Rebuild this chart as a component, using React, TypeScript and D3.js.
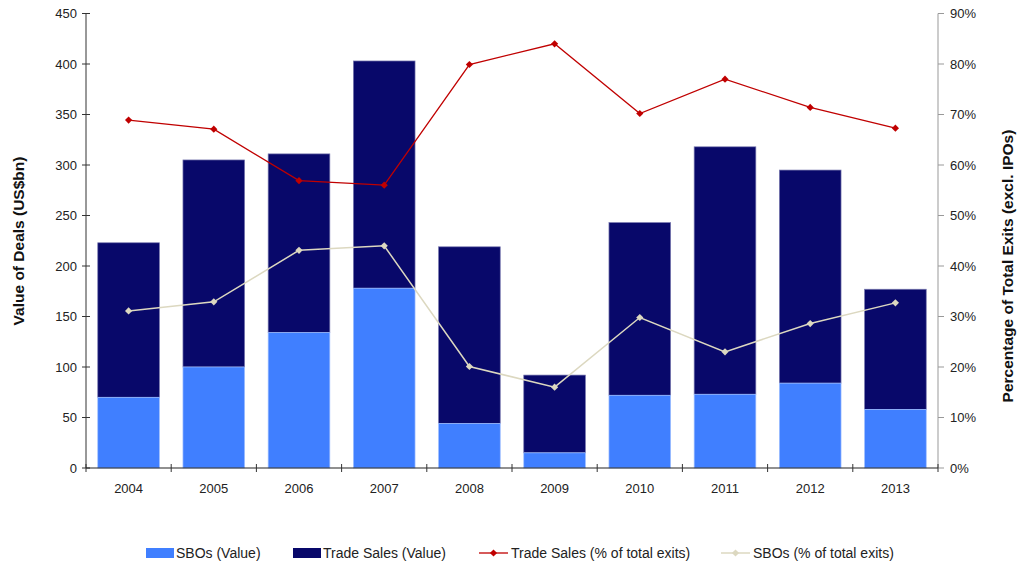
import * as d3 from "d3";

const years = ["2004", "2005", "2006", "2007", "2008", "2009", "2010", "2011", "2012", "2013"];
const sboValue = [70, 100, 134, 178, 44, 15, 72, 73, 84, 58];
const totalValue = [223, 305, 311, 403, 219, 92, 243, 318, 295, 177];
const tradeSalesPct = [68.9, 67.1, 56.9, 56.0, 79.9, 84.0, 70.2, 77.0, 71.4, 67.3];
const sboPct = [31.1, 32.9, 43.1, 44.0, 20.1, 16.0, 29.8, 23.0, 28.6, 32.7];
const leftTicks = [0, 50, 100, 150, 200, 250, 300, 350, 400, 450];
const rightTicks = [0, 10, 20, 30, 40, 50, 60, 70, 80, 90];

const width = 1017;
const height = 564;
const margin = { top: 13.5, right: 79, bottom: 96, left: 86 };
const font = "'Liberation Sans', Arial, sans-serif";

const C_SBO = "#407fff";
const C_TRADE = "#08086a";
const C_RED = "#c00000";
const C_BEIGE = "#dcd8c0";

function Diamond({ x, y, fill }: { x: number; y: number; fill: string }) {
  const s = 3.6;
  return <path d={`M${x},${y - s}L${x + s},${y}L${x},${y + s}L${x - s},${y}Z`} fill={fill} />;
}

export default function App() {
  const x = d3
    .scaleBand<string>()
    .domain(years)
    .range([margin.left, width - margin.right])
    .paddingInner(0.276)
    .paddingOuter(0.138);
  const band = (width - margin.right - margin.left) / years.length;
  const yL = d3.scaleLinear().domain([0, 450]).range([height - margin.bottom, margin.top]);
  const yR = d3.scaleLinear().domain([0, 90]).range([height - margin.bottom, margin.top]);
  const cx = (y: string) => (x(y) ?? 0) + x.bandwidth() / 2;

  const line = d3
    .line<number>()
    .x((_, i) => cx(years[i]))
    .y((d) => yR(d));

  const base = height - margin.bottom;
  const axisL = margin.left;
  const axisR = width - margin.right;

  return (
    <svg
      width={width}
      height={height}
      style={{ position: "absolute", left: 0, top: 0, background: "#fff" }}
      fontFamily={font}
    >
      {/* bars */}
      {years.map((yr, i) => (
        <g key={yr}>
          <rect
            x={x(yr)}
            y={yL(totalValue[i])}
            width={x.bandwidth()}
            height={yL(sboValue[i]) - yL(totalValue[i])}
            fill={C_TRADE}
            stroke="#7a7ab0"
            strokeWidth={0.7}
          />
          <rect
            x={x(yr)}
            y={yL(sboValue[i])}
            width={x.bandwidth()}
            height={base - yL(sboValue[i])}
            fill={C_SBO}
            stroke="#9fbfff"
            strokeWidth={0.7}
          />
        </g>
      ))}

      {/* lines */}
      <path d={line(sboPct) ?? undefined} fill="none" stroke={C_BEIGE} strokeWidth={1.5} />
      {sboPct.map((v, i) => (
        <Diamond key={"s" + i} x={cx(years[i])} y={yR(v)} fill={C_BEIGE} />
      ))}
      <path d={line(tradeSalesPct) ?? undefined} fill="none" stroke={C_RED} strokeWidth={1.3} />
      {tradeSalesPct.map((v, i) => (
        <Diamond key={"t" + i} x={cx(years[i])} y={yR(v)} fill={C_RED} />
      ))}

      {/* left axis */}
      <line x1={axisL} x2={axisL} y1={margin.top} y2={base} stroke="#333" />
      {leftTicks.map((t) => (
        <g key={"l" + t}>
          <line x1={axisL - 4} x2={axisL + 4} y1={yL(t)} y2={yL(t)} stroke="#333" />
          <text x={axisL - 9} y={yL(t)} dy="0.35em" textAnchor="end" fontSize={13} fill="#222">
            {t}
          </text>
        </g>
      ))}

      {/* right axis */}
      <line x1={axisR} x2={axisR} y1={margin.top} y2={base} stroke="#999" />
      {rightTicks.map((t) => (
        <g key={"r" + t}>
          <line x1={axisR} x2={axisR + 6} y1={yR(t)} y2={yR(t)} stroke="#999" />
          <text x={axisR + 12} y={yR(t)} dy="0.35em" textAnchor="start" fontSize={13} fill="#222">
            {t}%
          </text>
        </g>
      ))}

      {/* x axis */}
      <line x1={axisL} x2={axisR} y1={base} y2={base} stroke="#222" strokeWidth={1.2} />
      {d3.range(years.length + 1).map((i) => (
        <line
          key={"xt" + i}
          x1={axisL + i * band}
          x2={axisL + i * band}
          y1={base - 4}
          y2={base + 4}
          stroke="#333"
        />
      ))}
      {years.map((yr) => (
        <text key={"xl" + yr} x={cx(yr)} y={base + 25} textAnchor="middle" fontSize={13} fill="#222">
          {yr}
        </text>
      ))}

      {/* axis titles */}
      <text
        transform={`translate(24,241) rotate(-90)`}
        textAnchor="middle"
        fontSize={15.5}
        fontWeight="bold"
        fill="#111"
      >
        Value of Deals (US$bn)
      </text>
      <text
        transform={`translate(1013,266) rotate(-90)`}
        textAnchor="middle"
        fontSize={15.5}
        fontWeight="bold"
        fill="#111"
      >
        Percentage of Total Exits (excl. IPOs)
      </text>

      {/* legend */}
      <g fontSize={14} fill="#222">
        <rect x={146} y={548} width={28} height={10} fill={C_SBO} />
        <text x={176} y={553} dy="0.35em">SBOs (Value)</text>
        <rect x={293} y={548} width={28} height={10} fill={C_TRADE} />
        <text x={323} y={553} dy="0.35em">Trade Sales (Value)</text>
        <line x1={479} x2={508} y1={553} y2={553} stroke={C_RED} strokeWidth={1.3} />
        <Diamond x={493.5} y={553} fill={C_RED} />
        <text x={511} y={553} dy="0.35em">Trade Sales (% of total exits)</text>
        <line x1={721} x2={750} y1={553} y2={553} stroke={C_BEIGE} strokeWidth={1.5} />
        <Diamond x={735.5} y={553} fill={C_BEIGE} />
        <text x={753} y={553} dy="0.35em">SBOs (% of total exits)</text>
      </g>
    </svg>
  );
}
